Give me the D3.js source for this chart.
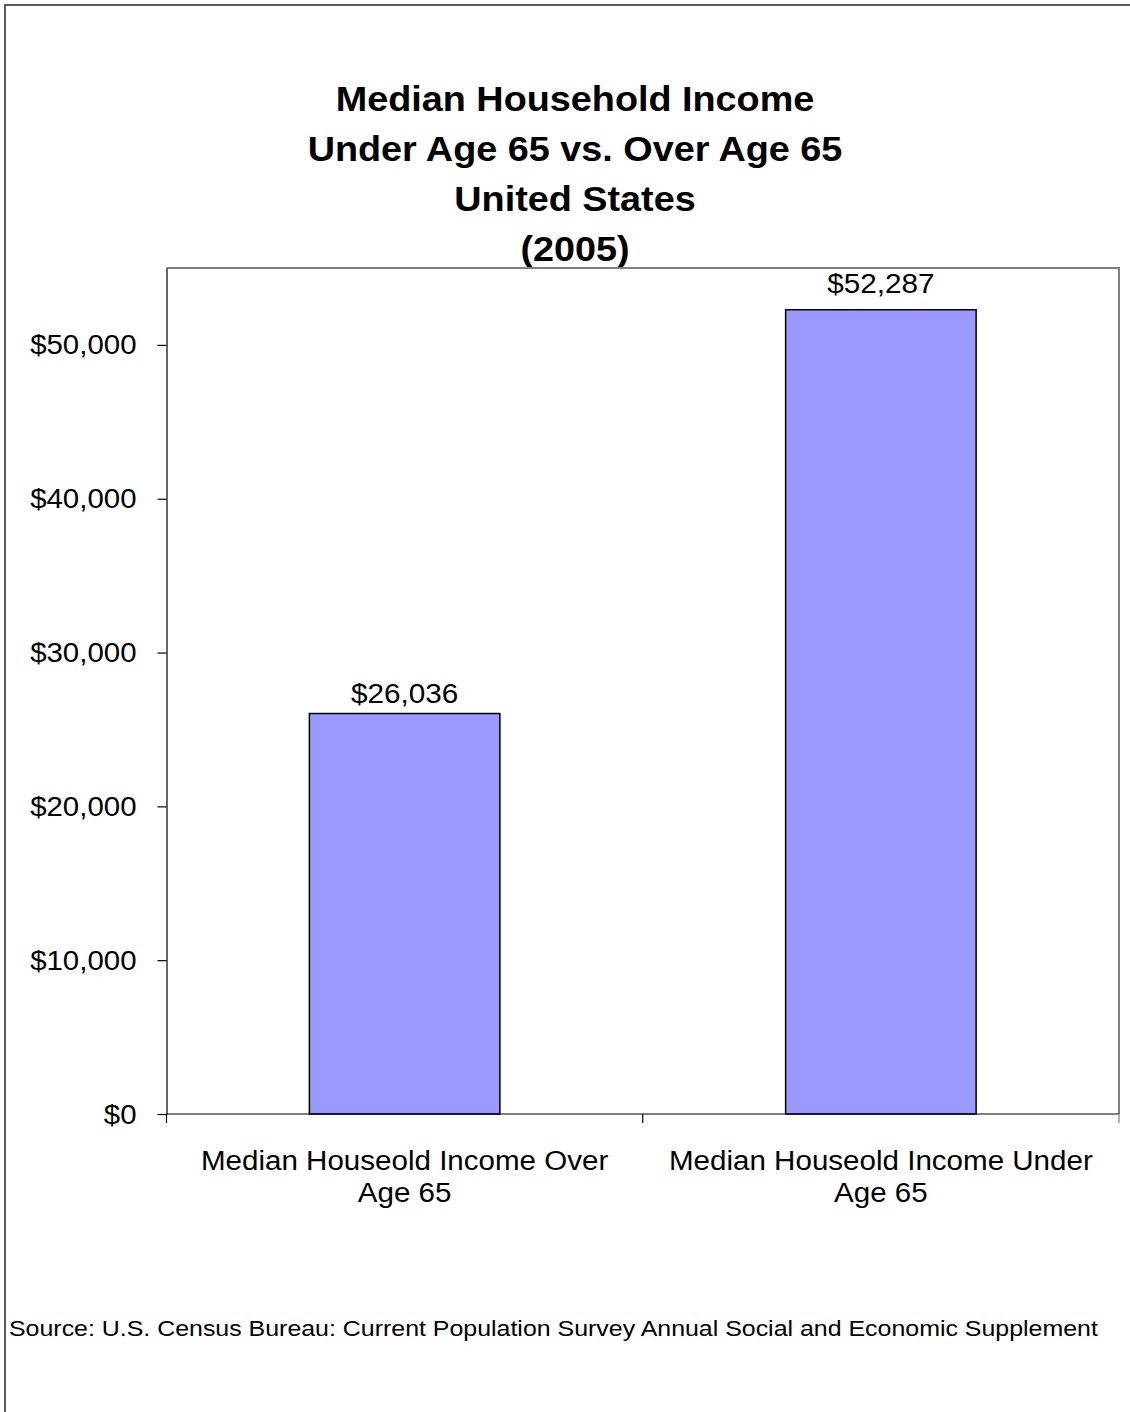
<!DOCTYPE html>
<html>
<head>
<meta charset="utf-8">
<script src="https://cdn.jsdelivr.net/npm/d3@7/dist/d3.min.js"></script>
<style>
  html, body { margin: 0; padding: 0; background: #fff; }
  svg { display: block; font-family: "Liberation Sans", Arial, sans-serif; }
</style>
</head>
<body>
<script>
// Chart data
const categories = [
  ["Median Houseold Income Over", "Age 65"],
  ["Median Houseold Income Under", "Age 65"]
];
const values = [26036, 52287];
const yTicks = [0, 10000, 20000, 30000, 40000, 50000];
const yMax = 55000;
const titleLines = [
  "Median Household Income",
  "Under Age 65 vs. Over Age 65",
  "United States",
  "(2005)"
];
const sourceText = "Source: U.S. Census Bureau: Current Population Survey Annual Social and Economic Supplement";

const W = 1130, H = 1412;
const plot = { left: 166.5, right: 1119, top: 268, bottom: 1114 };

const svg = d3.select("body").append("svg")
  .attr("width", W).attr("height", H);

// Text block in a slightly widened face, anchored at (x0, y0)
function wideText(parent, x0, y0, k, lines, lineH, opts) {
  const g = parent.append("g")
    .attr("transform", `translate(${x0},${y0}) scale(${k},1)`);
  const t = g.append("text")
    .attr("text-anchor", opts.anchor || "middle")
    .attr("font-size", opts.size)
    .attr("font-weight", opts.weight || "normal")
    .attr("fill", "#000");
  lines.forEach((ln, j) => {
    t.append("tspan").attr("x", 0).attr("y", j * lineH).text(ln);
  });
  return g;
}

// Outer chart frame
svg.append("rect")
  .attr("x", 5).attr("y", 5)
  .attr("width", 1150).attr("height", 1430)
  .attr("fill", "#fff")
  .attr("stroke", "#333").attr("stroke-width", 1.6);

// Title
wideText(svg, 575, 111, 1.08, titleLines, 50, { size: 35, weight: "bold" });

const x = d3.scaleBand()
  .domain(d3.range(categories.length))
  .range([plot.left, plot.right])
  .paddingInner(0.6)
  .paddingOuter(0.3);

const xCat = d3.scaleBand()
  .domain(d3.range(categories.length))
  .range([plot.left, plot.right]);

const y = d3.scaleLinear()
  .domain([0, yMax])
  .range([plot.bottom, plot.top]);

// Plot area outline (top and right edges)
svg.append("path")
  .attr("d", `M${plot.left},${plot.top}H${plot.right}V${plot.bottom}`)
  .attr("fill", "none")
  .attr("stroke", "#808080").attr("stroke-width", 2);

// Bars
svg.append("g").selectAll("rect")
  .data(values)
  .join("rect")
  .attr("x", (d, i) => x(i))
  .attr("y", d => y(d))
  .attr("width", x.bandwidth())
  .attr("height", d => y(0) - y(d))
  .attr("fill", "#9999ff")
  .attr("stroke", "#000").attr("stroke-width", 1.5);

// Value labels
const labelGap = [11, 17];
const labelsG = svg.append("g");
values.forEach((v, i) => {
  wideText(labelsG, x(i) + x.bandwidth() / 2, y(v) - labelGap[i], 1.1,
    [d3.format("$,")(v)], 0, { size: 27 });
});

// Y axis
const yAxis = svg.append("g")
  .attr("transform", `translate(${plot.left},0)`)
  .call(d3.axisLeft(y).tickValues(yTicks).tickSize(9).tickSizeOuter(0)
    .tickFormat(""));
yAxis.select(".domain").attr("stroke", "#000").attr("stroke-width", 1.2);
yAxis.selectAll(".tick line").attr("stroke", "#000").attr("stroke-width", 1.2);

const yLabels = svg.append("g");
yTicks.forEach(t => {
  wideText(yLabels, plot.left - 30, y(t) + 9.5, 1.09,
    [d3.format("$,")(t)], 0, { size: 27, anchor: "end" });
});

// X axis with boundary ticks between categories
const xAxisG = svg.append("g");
xAxisG.append("line")
  .attr("x1", plot.left).attr("x2", plot.right)
  .attr("y1", plot.bottom).attr("y2", plot.bottom)
  .attr("stroke", "#000").attr("stroke-width", 1.2);
const bounds = d3.range(categories.length + 1).map(i =>
  i < categories.length ? xCat(i) : xCat(i - 1) + xCat.bandwidth());
xAxisG.selectAll("line.tick")
  .data(bounds)
  .join("line")
  .attr("class", "tick")
  .attr("x1", d => d).attr("x2", d => d)
  .attr("y1", plot.bottom).attr("y2", plot.bottom + 9)
  .attr("stroke", d => d >= plot.right - 1 ? "#808080" : "#000")
  .attr("stroke-width", 1.2);

// Category labels
categories.forEach((lines, i) => {
  wideText(svg, xCat(i) + xCat.bandwidth() / 2, 1170, 1.095, lines, 32, { size: 27 });
});

// Source note
wideText(svg, 9, 1336, 1.16, [sourceText], 0, { size: 21.5, anchor: "start" });
</script>
</body>
</html>
